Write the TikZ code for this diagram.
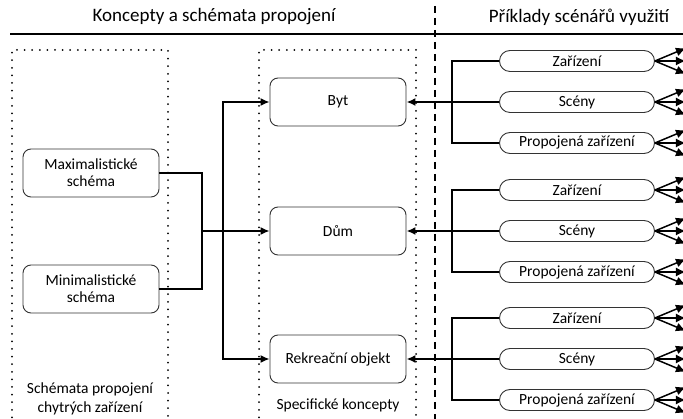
\documentclass[tikz,border=0pt]{standalone}
\usepackage{fontspec}
\setmainfont{Carlito}
\usetikzlibrary{arrows.meta}

\tikzset{
  konc/.style={draw=black!80, rounded corners=8pt, minimum width=136pt, minimum height=48pt,
    align=center, font=\fontsize{15.5}{17}\selectfont, line width=0.9pt},
  scen/.style={draw=black!80, rounded corners=10.5pt, minimum width=155pt, minimum height=21pt,
    inner sep=0pt, font=\fontsize{15.5}{17}\selectfont, line width=0.9pt},
  conn/.style={line width=1.5pt},
  arr/.style={conn, -{Latex[length=9pt,width=8pt]}},
  fan/.style={line width=1.5pt, -{Latex[length=10pt,width=9pt]}},
  tecky/.style={line width=2pt, line cap=round, dash pattern=on 0pt off 7.6pt},
}

\begin{document}
\begin{tikzpicture}[x=1pt,y=-1pt]
\useasboundingbox (0,0) rectangle (683,419);

% headings
\node[font=\fontsize{19}{21}\selectfont] (hlavA) at (214,17) {Koncepty a schémata propojení};
\node[font=\fontsize{19}{21}\selectfont] (hlavB) at (579,17) {Příklady scénářů využití};
\draw[line width=2pt] (10,34) -- (683,34);
\draw[line width=2pt, dash pattern=on 7pt off 5pt] (435,6) -- (435,419);

% dotted frames
\draw[tecky] (12,425) -- (12,50) -- (168,50) -- (168,425);
\draw[tecky] (259,425) -- (259,50) -- (416,50) -- (416,425);
\node[font=\fontsize{15.5}{19}\selectfont, align=center] (popisA) at (90,399) {Schémata propojení\\chytrých zařízení};
\node[font=\fontsize{15.5}{17}\selectfont] (popisB) at (338,405) {Specifické koncepty};

% schemes
\node[konc] (max) at (91,173) {Maximalistické\\schéma};
\node[konc] (min) at (91,289) {Minimalistické\\schéma};

% concepts
\node[konc] (byt) at (338,102) {Byt};
\node[konc] (dum) at (338,231) {Dům};
\node[konc] (rek) at (338,359) {Rekreační objekt};

\coordinate (spoj) at (202,231);
\coordinate (rozv) at (223,231);
\draw[conn] (max.east) -| (spoj) |- (min.east);
\draw[arr] (spoj) -- (dum.west);
\draw[arr] (rozv) |- (byt.west);
\draw[arr] (rozv) |- (rek.west);

% scenarios
\foreach \n/\y in {byt/102,dum/231,rek/359}{
  \node[scen] (zar\n) at (577,\y-41) {Zařízení};
  \node[scen] (sce\n) at (577,\y) {Scény};
  \node[scen] (pro\n) at (577,\y+41) {Propojená zařízení};
  \coordinate (bar\n) at (452,\y);
  \draw[conn] (zar\n.west) -| (bar\n) |- (pro\n.west);
  \draw[conn] (sce\n.west) -- (bar\n);
  \draw[arr, line width=2pt] (bar\n) -- (\n.east);
  \foreach \k in {zar,sce,pro}{
    \draw[fan] (\k\n.east) -- ++(31,-13);
    \draw[fan] (\k\n.east) -- ++(31,0);
    \draw[fan] (\k\n.east) -- ++(31,13);
  }
}

\end{tikzpicture}
\end{document}
